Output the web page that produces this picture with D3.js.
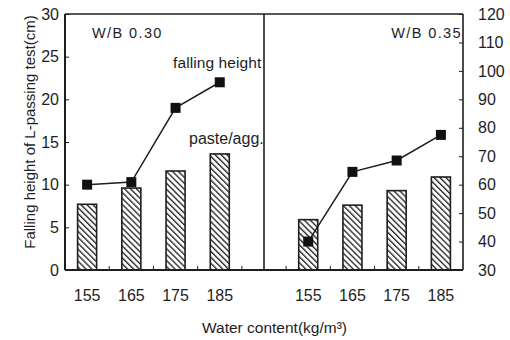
<!DOCTYPE html>
<html>
<head>
<meta charset="utf-8">
<script src="https://cdn.jsdelivr.net/npm/d3@7"></script>
<style>
  html, body { margin: 0; padding: 0; background: #fff; }
  svg { display: block; font-family: "Liberation Sans", Arial, sans-serif; }
</style>
</head>
<body>
<svg id="chart" width="510" height="340"></svg>
<script>
// Water content categories (kg/m3)
const categories = ["155", "165", "175", "185"];
// W/B 0.30 panel: falling height (cm, left axis) and paste/agg. bars
const fallingHeight030 = [10, 10.3, 19, 22];
const pasteAgg030 = [7.7, 9.6, 11.6, 13.6];
// W/B 0.35 panel: falling height (right axis) and paste/agg. bars
const fallingHeight035 = [40, 64.5, 68.5, 77.5];
const pasteAgg035 = [5.9, 7.6, 9.3, 10.9];
// Axis ticks
const leftTicks = [0, 5, 10, 15, 20, 25, 30];
const rightTicks = [30, 40, 50, 60, 70, 80, 90, 100, 110, 120];
const panelLabels = ["W/B 0.30", "W/B 0.35"];

const svg = d3.select("#chart");
const ink = "#1e1e1e";
const plotL = 65, plotR = 463, plotT = 14, plotB = 270;

// Nine slots: four per panel, one empty slot holding the divider
const slots = [...categories.map(c => "a" + c), "gap", ...categories.map(c => "b" + c)];
const x = d3.scaleBand().domain(slots).range([plotL, plotR]).paddingInner(0).paddingOuter(0);
const yL = d3.scaleLinear().domain([0, 30]).range([plotB, plotT]);
const yR = d3.scaleLinear().domain([30, 120]).range([plotB, plotT]);
const barW = x.bandwidth() * 0.43;

// Hatch pattern for the bars
const defs = svg.append("defs");
const pat = defs.append("pattern")
  .attr("id", "hatch").attr("patternUnits", "userSpaceOnUse")
  .attr("width", 4.2).attr("height", 4.2)
  .attr("patternTransform", "rotate(-45)");
pat.append("rect").attr("width", 4.2).attr("height", 4.2).attr("fill", "#fff");
pat.append("line").attr("x1", 0.7).attr("y1", 0).attr("x2", 0.7).attr("y2", 4.2)
  .attr("stroke", ink).attr("stroke-width", 1.3);

// Bars
function drawBars(prefix, values) {
  svg.append("g").selectAll("rect")
    .data(values.map((v, i) => ({ key: prefix + categories[i], v })))
    .join("rect")
    .attr("x", d => x(d.key) + x.bandwidth() / 2 - barW / 2)
    .attr("y", d => yL(d.v))
    .attr("width", barW)
    .attr("height", d => yL(0) - yL(d.v))
    .attr("fill", "url(#hatch)")
    .attr("stroke", ink).attr("stroke-width", 1.6);
}
drawBars("a", pasteAgg030);
drawBars("b", pasteAgg035);

// Lines with square markers
function drawLine(prefix, values, yScale) {
  const pts = values.map((v, i) => [x(prefix + categories[i]) + x.bandwidth() / 2, yScale(v)]);
  svg.append("path").attr("d", d3.line()(pts))
    .attr("fill", "none").attr("stroke", ink).attr("stroke-width", 1.5);
  svg.append("g").selectAll("rect").data(pts).join("rect")
    .attr("x", d => d[0] - 5).attr("y", d => d[1] - 5)
    .attr("width", 10).attr("height", 10).attr("fill", "#111");
}
drawLine("a", fallingHeight030, yL);
drawLine("b", fallingHeight035, yR);

// Frame: left axis, right axis, top border, bottom axis, divider
const frame = svg.append("g").attr("stroke", ink).attr("fill", "none");
frame.append("line").attr("x1", plotL).attr("x2", plotR).attr("y1", plotT).attr("y2", plotT).attr("stroke-width", 1.5);
frame.append("line").attr("x1", plotL).attr("x2", plotR).attr("y1", plotB).attr("y2", plotB).attr("stroke-width", 2);
frame.append("line").attr("x1", plotL).attr("x2", plotL).attr("y1", plotT).attr("y2", plotB).attr("stroke-width", 2);
frame.append("line").attr("x1", plotR).attr("x2", plotR).attr("y1", plotT).attr("y2", plotB).attr("stroke-width", 1.6);
const divX = x("gap") + x.bandwidth() / 2;
frame.append("line").attr("x1", divX).attr("x2", divX).attr("y1", plotT).attr("y2", plotB).attr("stroke-width", 1.6);

// Left axis
const axL = svg.append("g").attr("transform", `translate(${plotL},0)`)
  .call(d3.axisLeft(yL).tickValues(leftTicks).tickSizeInner(-4).tickSizeOuter(0).tickPadding(6));
// Right axis
const axR = svg.append("g").attr("transform", `translate(${plotR},0)`)
  .call(d3.axisRight(yR).tickValues(rightTicks).tickSizeInner(-4).tickSizeOuter(0).tickPadding(15));
// Bottom axis: labels at band centres, small ticks at band boundaries
const labelSlots = slots.filter(s => s !== "gap");
const axB = svg.append("g").attr("transform", `translate(0,${plotB})`)
  .call(d3.axisBottom(x).tickValues(labelSlots).tickFormat(s => s.slice(1)).tickSize(0).tickPadding(20));
const boundaries = slots.slice(1).map(s => x(s));
svg.append("g").selectAll("line").data(boundaries).join("line")
  .attr("x1", d => d).attr("x2", d => d).attr("y1", plotB).attr("y2", plotB - 4)
  .attr("stroke", ink).attr("stroke-width", 1);

[axL, axR, axB].forEach(g => {
  g.select(".domain").remove();
  g.selectAll(".tick line").attr("stroke", ink).attr("stroke-width", 1);
  g.selectAll(".tick text").attr("fill", ink).style("font-size", "16px")
    .style("font-family", "'Liberation Sans', Arial, sans-serif");
});

// Panel labels and series annotations
const txt = (s, px, py, size, anchor, spacing) => svg.append("text").text(s)
  .attr("x", px).attr("y", py).attr("fill", ink)
  .attr("text-anchor", anchor || "start")
  .style("letter-spacing", (spacing || 0) + "px")
  .style("font-size", size + "px");
txt(panelLabels[0], 92, 38, 14.5, "start", 1.4);
txt(panelLabels[1], 462, 38, 14.5, "end", 1.4);
txt("falling height", 173, 68, 15.5, "start", 0.1);
txt("paste/agg.", 189, 144, 16);

// Axis titles
svg.append("text")
  .attr("transform", "translate(35,132) rotate(-90)")
  .attr("text-anchor", "middle").attr("fill", ink).style("font-size", "15px")
  .text("Falling height of L-passing test(cm)");

svg.append("text").attr("x", 202).attr("y", 333).attr("fill", ink)
  .style("font-size", "15.5px")
  .text("Water content(kg/m³)");
</script>
</body>
</html>
